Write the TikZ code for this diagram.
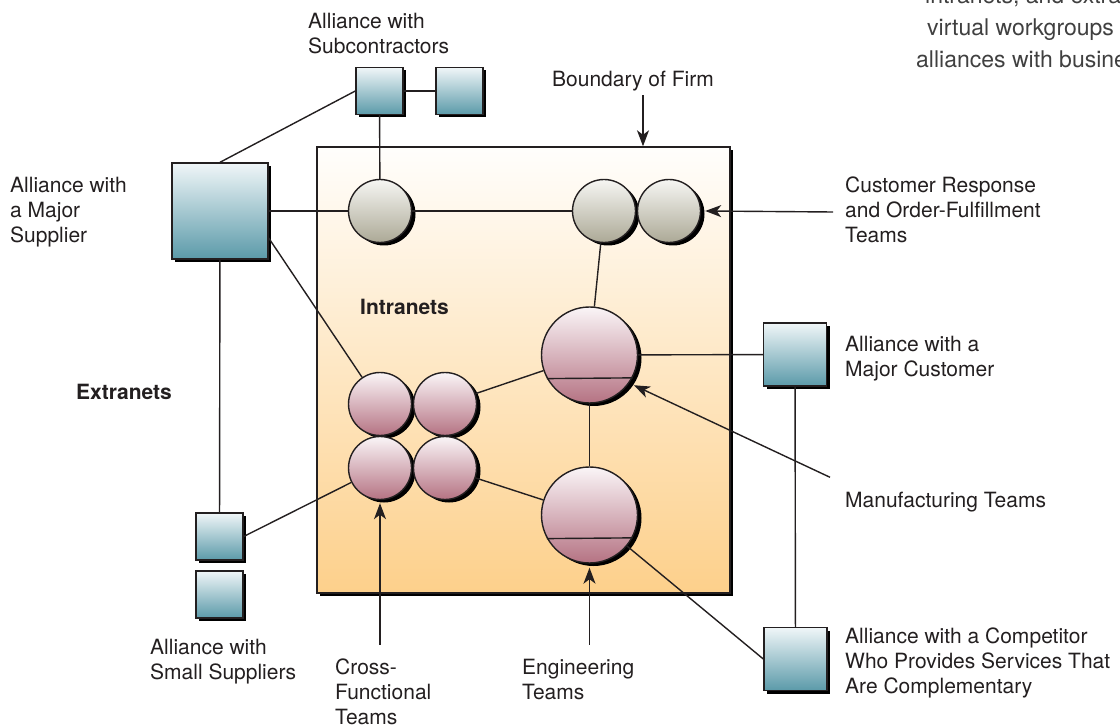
\documentclass[tikz,border=0pt]{standalone}
\usepackage{fontspec}
\setmainfont{TeX Gyre Heros}
\usetikzlibrary{arrows.meta,shadows,calc}

\definecolor{ink}{HTML}{231F20}
\definecolor{sqtop}{HTML}{F0F6F8}
\definecolor{sqbot}{HTML}{5B9AA9}
\definecolor{gytop}{HTML}{F6F6F3}
\definecolor{gybot}{HTML}{ACA996}
\definecolor{pktop}{HTML}{FAF5F7}
\definecolor{pkbot}{HTML}{B57383}
\definecolor{firmtop}{HTML}{FFFEFC}
\definecolor{firmbot}{HTML}{FDD08B}
\definecolor{notegray}{HTML}{404040}

\tikzset{
  conn/.style={draw=ink, line width=1.4pt},
  arr/.style={conn, -{Stealth[length=16pt,width=12pt,inset=4.5pt]}},
  hardshadow/.style={drop shadow={shadow xshift=3pt, shadow yshift=-3pt, fill=black, opacity=1}},
  roundshadow/.style={drop shadow={shadow xshift=4pt, shadow yshift=-3pt, fill=black, opacity=1}},
  alliance/.style={rectangle, draw=ink, line width=1.4pt, top color=sqtop, bottom color=sqbot,
    minimum size=#1, inner sep=0, hardshadow},
  gteam/.style={circle, draw=ink, line width=1.4pt, top color=gytop, bottom color=gybot,
    minimum size=63pt, inner sep=0, roundshadow},
  pteam/.style={circle, draw=ink, line width=1.4pt, top color=pktop, bottom color=pkbot,
    minimum size=#1, inner sep=0, roundshadow},
  firmbox/.style={rectangle, draw=ink, line width=1.4pt, top color=firmtop, bottom color=firmbot,
    minimum width=413pt, minimum height=446pt, inner sep=0, hardshadow},
  lbl/.style={anchor=north west, inner sep=0, align=left, text=ink, font=\fontsize{21}{25}\selectfont},
  boldlbl/.style={lbl, font=\fontsize{21}{25}\selectfont\bfseries},
  note/.style={anchor=base west, inner sep=0, text=notegray, font=\fontsize{23}{32}\selectfont}
}

\begin{document}
\begin{tikzpicture}[x=1pt,y=-1pt]
\useasboundingbox (0,0) rectangle (1120,727);
\clip (0,0) rectangle (1120,727);

% boundary of the firm
\node[firmbox] (firm) at (523.5,370) {};

% alliances (squares)
\node[alliance=47pt] (sub1) at (379.5,91) {};
\node[alliance=47pt] (sub2) at (459.5,91) {};
\node[alliance=96pt] (sup) at (220,211) {};
\node[alliance=63pt] (cust) at (795,354.5) {};
\node[alliance=63pt] (comp) at (795.5,659) {};
\node[alliance=47pt] (ss1) at (219.5,536.5) {};
\node[alliance=47pt] (ss2) at (219.5,594.5) {};

% teams (circles)
\node[gteam] (g1) at (380,211) {};
\node[gteam] (g2) at (604,211) {};
\node[gteam] (g3) at (669,211) {};
\node[pteam=63pt] (p1) at (380,404) {};
\node[pteam=63pt] (p2) at (445,404) {};
\node[pteam=63pt] (p3) at (380,468) {};
\node[pteam=63pt] (p4) at (445,468) {};
\node[pteam=96pt] (big1) at (589.5,355) {};
\node[pteam=96pt] (big2) at (589.5,515) {};
\draw[conn] (big1.-151.4) -- (big1.-28.6);
\draw[conn] (big2.-151.4) -- (big2.-28.6);

% links
\draw[conn] (sub1) -- (sub2);
\draw[conn] (sup.north) -- (sub1.west);
\draw[conn] (sub1) -- (g1);
\draw[conn] (sup) -- (g1);
\draw[conn] (g1) -- (g2);
\draw[conn] (sup.-29.4) -- (p1);
\draw[conn] (sup) -- (ss1);
\draw[conn] (g2) -- (big1);
\draw[conn] (big1) -- (cust);
\draw[conn] (cust) -- (comp);
\draw[conn] (big1) -- (big2);
\draw[conn] (p2) -- (big1);
\draw[conn] (p3) -- (ss1.east);
\draw[conn] (p4) -- (big2);
\draw[conn] (big2) -- (comp.west);

% labels
\node[lbl] (lsub) at (308,12.8) {Alliance with\\Subcontractors};
\node[lbl] (lbnd) at (552,70.8) {Boundary of Firm};
\node[lbl] (lsup) at (10,176.8) {Alliance with\\a Major\\Supplier};
\node[lbl] (lcrt) at (845,176.8) {Customer Response\\and Order-Fulfillment\\Teams};
\node[boldlbl] (lint) at (360,298.8) {Intranets};
\node[boldlbl] (lext) at (76,383.8) {Extranets};
\node[lbl] (lcus) at (845,335.8) {Alliance with a\\Major Customer};
\node[lbl] (lmfg) at (845,491.8) {Manufacturing Teams};
\node[lbl] (lcmp) at (845,627.8) {Alliance with a Competitor\\Who Provides Services That\\Are Complementary};
\node[lbl] (lsml) at (150,638.8) {Alliance with\\Small Suppliers};
\node[lbl] (lcft) at (335,658.8) {Cross-\\Functional\\Teams};
\node[lbl] (leng) at (522,658.8) {Engineering\\Teams};

% caption fragment at the top right
\node[note] (n1) at (925,4) {intranets, and extra};
\node[note] (n2) at (927,36) {virtual workgroups};
\node[note] (n3) at (916,68) {alliances with busine};

% pointer arrows
\coordinate (bndx) at (643,0);
\draw[arr] ($(lbnd.south -| bndx)+(0,4)$) -- (firm.north -| bndx);
\draw[arr] ($(lcrt.west)+(-12,2)$) -- ([xshift=4pt]g3.east);
\draw[arr] ([shift={(-15,-14.5)}]lmfg.north west) -- ([shift={(4,3)}]big1.-34.6);
\draw[arr] ($(lcft.north -| p3.south)+(0,-14)$) -- ([yshift=-3pt]p3.south);
\draw[arr] ($(leng.north -| big2.south)+(0,-14)$) -- ([yshift=-4pt]big2.south);
\end{tikzpicture}
\end{document}
